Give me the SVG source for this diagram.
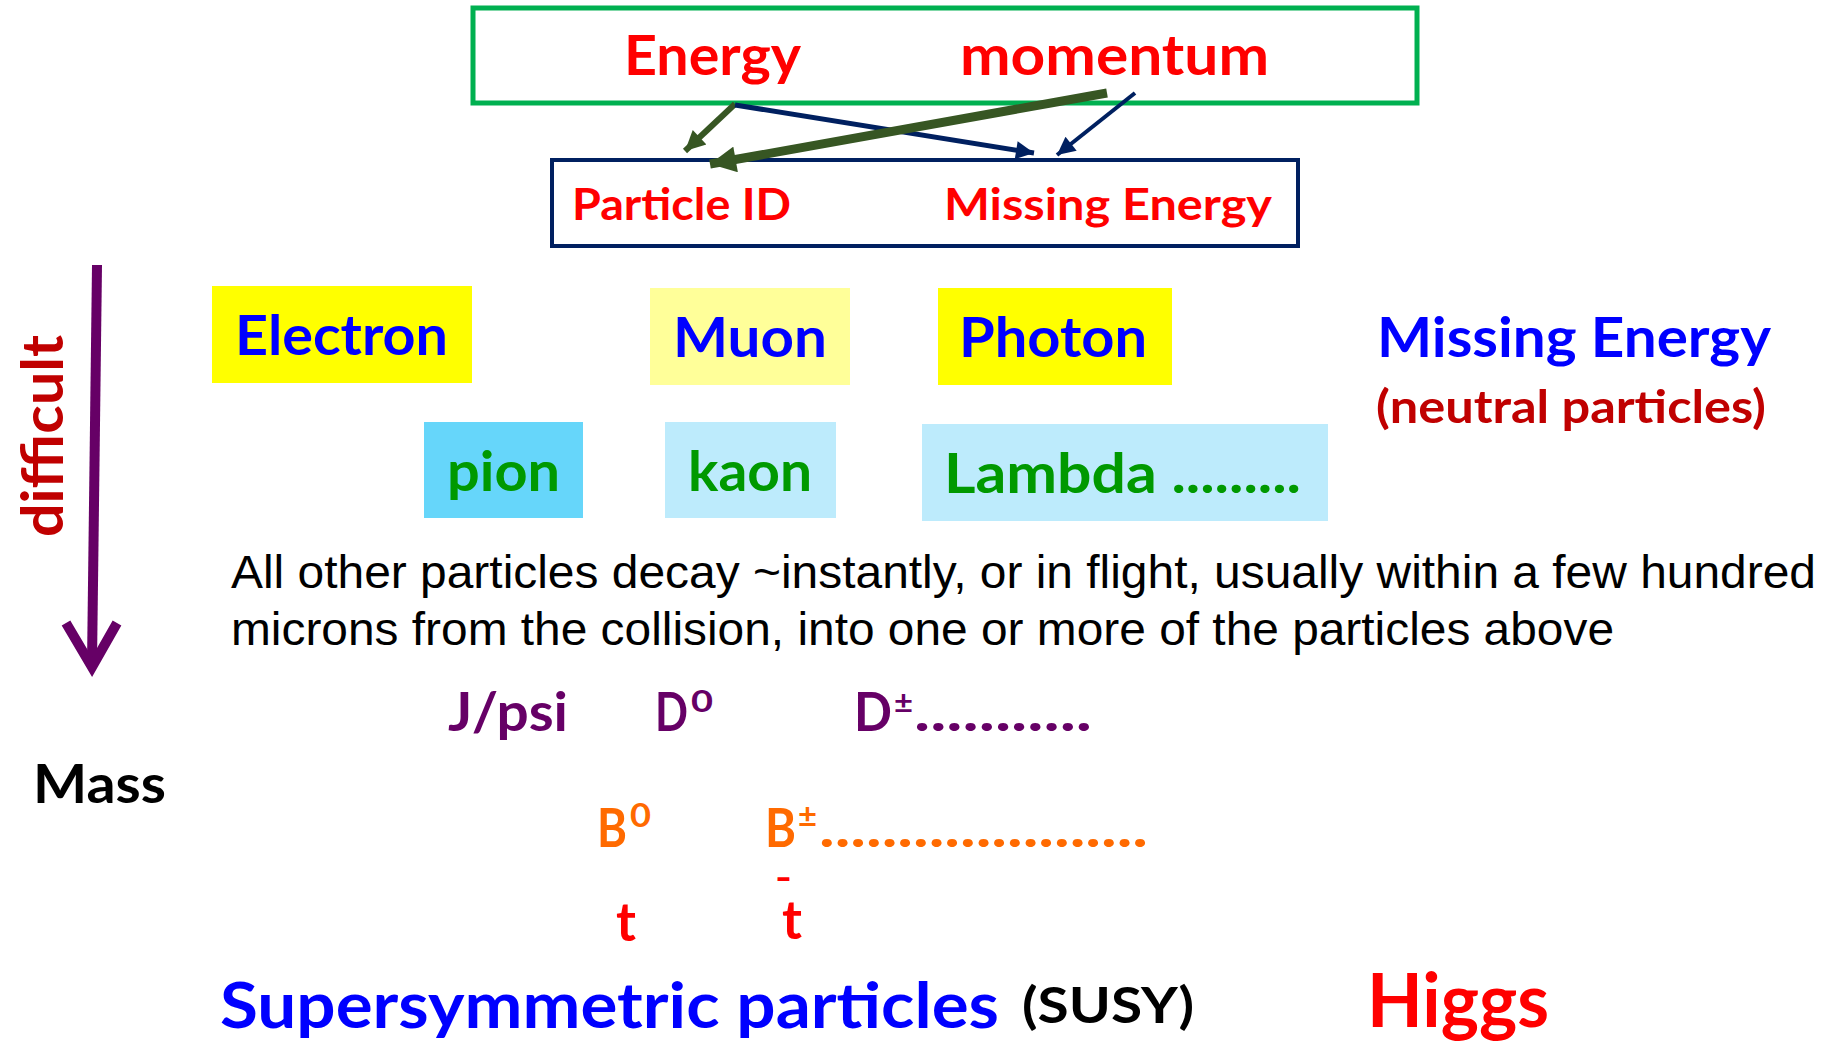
<svg xmlns="http://www.w3.org/2000/svg" width="1824" height="1043" viewBox="0 0 1824 1043">
<defs>
<style>
.b{font-family:Lato,"Open Sans","Noto Sans",sans-serif;font-weight:700}
.a{font-family:"Liberation Sans",Arial,sans-serif;font-weight:400}
.red{fill:#FF0000}
.blue{fill:#0000FF}
.green{fill:#009900}
.purple{fill:#660066}
.orange{fill:#FF6A00}
.dred{fill:#C00000}
</style>
<marker id="hg" viewBox="0 0 10 10" refX="10" refY="5" markerWidth="22" markerHeight="20" markerUnits="userSpaceOnUse" orient="auto"><path d="M0,0 L10,5 L0,10 z" fill="#375623"/></marker>
<marker id="hgL" viewBox="0 0 10 10" refX="10" refY="5" markerWidth="28" markerHeight="26" markerUnits="userSpaceOnUse" orient="auto"><path d="M0,0 L10,5 L0,10 z" fill="#375623"/></marker>
<marker id="hn" viewBox="0 0 10 10" refX="10" refY="5" markerWidth="20" markerHeight="18" markerUnits="userSpaceOnUse" orient="auto"><path d="M0,0 L10,5 L0,10 z" fill="#002060"/></marker>
</defs>
<rect width="1824" height="1043" fill="#FFFFFF"/>

<g id="top-box">
<rect x="473" y="8" width="944" height="95" fill="none" stroke="#00B050" stroke-width="5"/>
<text class="b red" x="624" y="75" font-size="56" textLength="177" lengthAdjust="spacingAndGlyphs">Energy</text>
<text class="b red" x="960" y="75" font-size="56" textLength="309" lengthAdjust="spacingAndGlyphs">momentum</text>
</g>

<g id="mid-box">
<rect x="552" y="160" width="746" height="86" fill="none" stroke="#002060" stroke-width="4"/>
<text class="b red" x="572" y="220" font-size="44" textLength="219" lengthAdjust="spacingAndGlyphs">Particle ID</text>
<text class="b red" x="944" y="220" font-size="44" textLength="328" lengthAdjust="spacingAndGlyphs">Missing Energy</text>
</g>

<g id="connectors">
<line x1="735" y1="104" x2="685" y2="151" stroke="#375623" stroke-width="6" marker-end="url(#hg)"/>
<line x1="735" y1="105" x2="1034" y2="153" stroke="#002060" stroke-width="5" marker-end="url(#hn)"/>
<line x1="1107" y1="93" x2="710" y2="164" stroke="#375623" stroke-width="9" marker-end="url(#hgL)"/>
<line x1="1135" y1="93" x2="1057" y2="155" stroke="#002060" stroke-width="4" marker-end="url(#hn)"/>
<path d="M97,265 L92,664" stroke="#660066" stroke-width="10" fill="none"/>
<path d="M66,623 L92,667 L117,623" stroke="#660066" stroke-width="10" fill="none" stroke-linejoin="miter"/>
</g>

<g id="difficult">
<text class="b dred" transform="translate(63,537) rotate(-90)" x="0" y="0" font-size="58" textLength="202" lengthAdjust="spacingAndGlyphs">difficult</text>
</g>

<g id="electron">
<rect x="212" y="286" width="260" height="97" fill="#FFFF00"/>
<text class="b blue" x="235" y="355" font-size="56" textLength="213" lengthAdjust="spacingAndGlyphs">Electron</text>
</g>
<g id="muon">
<rect x="650" y="288" width="200" height="97" fill="#FFFF99"/>
<text class="b blue" x="673" y="357" font-size="56" textLength="154" lengthAdjust="spacingAndGlyphs">Muon</text>
</g>
<g id="photon">
<rect x="938" y="288" width="234" height="97" fill="#FFFF00"/>
<text class="b blue" x="959" y="357" font-size="56" textLength="188" lengthAdjust="spacingAndGlyphs">Photon</text>
</g>
<g id="missing-energy">
<text class="b blue" x="1377" y="357" font-size="56" textLength="394" lengthAdjust="spacingAndGlyphs">Missing Energy</text>
<text class="b dred" x="1376" y="423" font-size="46" textLength="390" lengthAdjust="spacingAndGlyphs">(neutral particles)</text>
</g>
<g id="pion">
<rect x="424" y="422" width="159" height="96" fill="#66D6FA"/>
<text class="b green" x="447" y="491" font-size="56" textLength="113" lengthAdjust="spacingAndGlyphs">pion</text>
</g>
<g id="kaon">
<rect x="665" y="422" width="171" height="96" fill="#BDEBFC"/>
<text class="b green" x="688" y="491" font-size="56" textLength="124" lengthAdjust="spacingAndGlyphs">kaon</text>
</g>
<g id="lambda">
<rect x="922" y="424" width="406" height="97" fill="#BDEBFC"/>
<text class="b green" x="944" y="493" font-size="56" textLength="357" lengthAdjust="spacingAndGlyphs">Lambda .........</text>
</g>

<g id="description">
<text class="a" x="231" y="588" font-size="46" fill="#000" textLength="1585" lengthAdjust="spacingAndGlyphs">All other particles decay ~instantly, or in flight, usually within a few hundred</text>
<text class="a" x="231" y="645" font-size="46" fill="#000" textLength="1383" lengthAdjust="spacingAndGlyphs">microns from the collision, into one or more of the particles above</text>
</g>

<g id="charm">
<text class="b purple" x="448" y="731" font-size="54" textLength="120" lengthAdjust="spacingAndGlyphs">J/psi</text>
<text class="b purple" x="655" y="731" font-size="54" textLength="33" lengthAdjust="spacingAndGlyphs">D</text>
<text class="b purple" x="691" y="712" font-size="30" textLength="22" lengthAdjust="spacingAndGlyphs">0</text>
<text class="b purple" x="854" y="731" font-size="54" textLength="38" lengthAdjust="spacingAndGlyphs">D</text>
<text class="b purple" x="894" y="713" font-size="30" textLength="19" lengthAdjust="spacingAndGlyphs">±</text>
<text class="b purple" x="914" y="731" font-size="54" textLength="178" lengthAdjust="spacingAndGlyphs">...........</text>
</g>

<g id="mass">
<text class="b" x="33" y="803" font-size="53" fill="#000" textLength="133" lengthAdjust="spacingAndGlyphs">Mass</text>
</g>

<g id="bottom">
<text class="b orange" x="597" y="847" font-size="54" textLength="30" lengthAdjust="spacingAndGlyphs">B</text>
<text class="b orange" x="630" y="827" font-size="32" textLength="21" lengthAdjust="spacingAndGlyphs">0</text>
<text class="b orange" x="765" y="847" font-size="54" textLength="31" lengthAdjust="spacingAndGlyphs">B</text>
<text class="b orange" x="798" y="827" font-size="32" textLength="19" lengthAdjust="spacingAndGlyphs">±</text>
<text class="b orange" x="819" y="847" font-size="54" textLength="329" lengthAdjust="spacingAndGlyphs">.....................</text>
</g>

<g id="top-quark">
<text class="b red" x="616" y="941" font-size="54" textLength="20" lengthAdjust="spacingAndGlyphs">t</text>
<text class="b red" x="775" y="890" font-size="36" textLength="17" lengthAdjust="spacingAndGlyphs">-</text>
<text class="b red" x="782" y="939" font-size="54" textLength="20" lengthAdjust="spacingAndGlyphs">t</text>
</g>

<g id="susy">
<text class="b blue" x="220" y="1028" font-size="64" textLength="779" lengthAdjust="spacingAndGlyphs">Supersymmetric particles</text>
<text class="b" x="1022" y="1023" font-size="50" fill="#000" textLength="172" lengthAdjust="spacingAndGlyphs">(SUSY)</text>
</g>

<g id="higgs">
<text class="b red" x="1367" y="1027" font-size="75" textLength="182" lengthAdjust="spacingAndGlyphs">Higgs</text>
</g>
</svg>
